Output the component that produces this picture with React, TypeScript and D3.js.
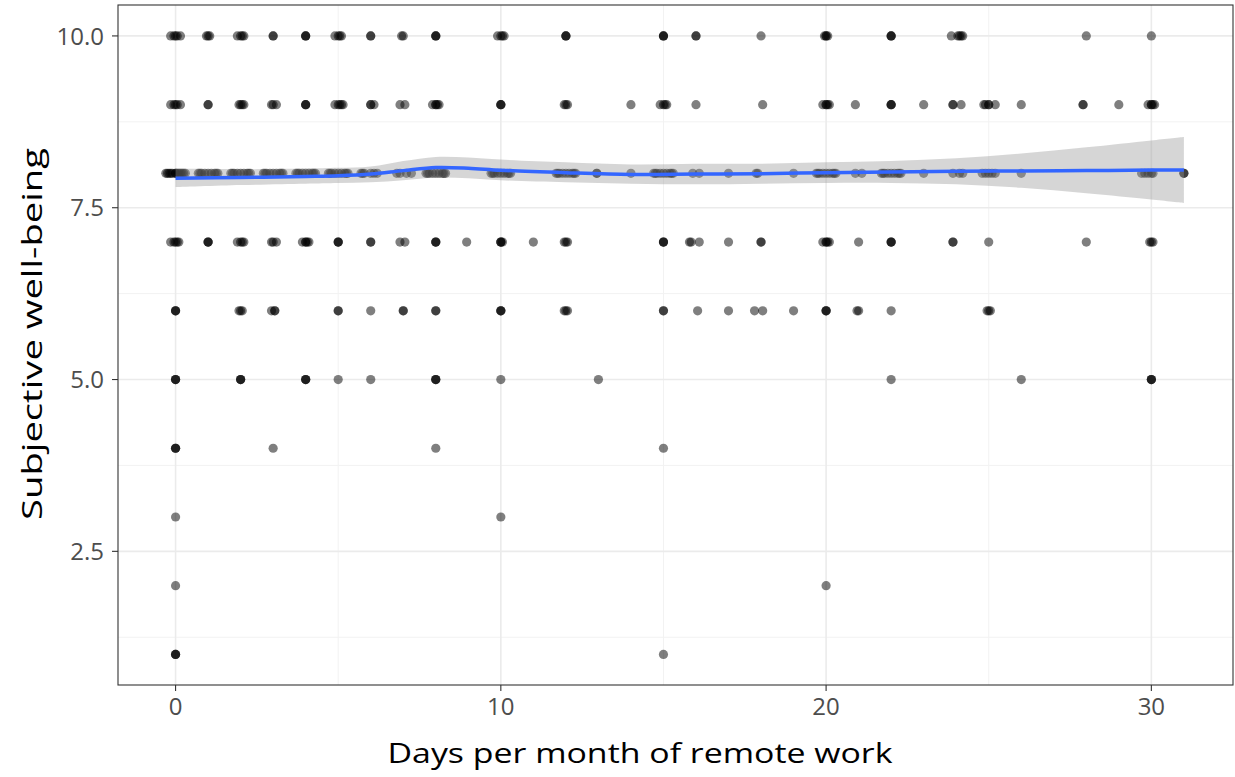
import React from "react";
import * as d3 from "d3";

// Days per month of remote work (x) for each subjective well-being level (y)
const swb10 = [-0.15, -0.05, 0, 0.05, 0.15, 0.95, 1.05, 1, 1.9, 2, 2.05, 2.1, 3, 3, 4, 4, 4, 4.9, 5, 5.05, 5.1, 6, 6, 6.95, 7, 8, 8, 8, 9.9, 10, 10.05, 10.1, 12, 12, 12, 15, 15, 15, 16, 16, 18, 19.95, 20, 20.05, 20, 22, 22, 22, 23.85, 24.05, 24.1, 24.2, 24.15, 28, 30];
const swb9 = [-0.15, -0.05, 0, 0.05, 0.15, 1, 1, 1.95, 2, 2.05, 2.1, 2.95, 3, 3.1, 4, 4, 4, 4.9, 5, 5.05, 5.1, 5.15, 6, 6, 6.1, 6.9, 7.05, 7.9, 8, 8.05, 8.1, 8, 10, 10, 10, 11.95, 12.05, 12, 14, 14.9, 15, 15.05, 15.1, 16, 18.05, 19.9, 20, 20.05, 20.1, 20, 20.9, 22, 22, 22, 23, 23.9, 23.9, 24.15, 24.85, 24.9, 25, 25, 25.2, 26, 27.9, 27.9, 29, 29.9, 30, 30.05, 30.1, 30];
const swb8 = [-0.3, -0.25, -0.2, -0.15, -0.1, 0, 0, 0.05, 0.1, 0.15, 0.2, 0.25, 0.3, 0.7, 0.75, 0.8, 0.9, 1, 1.1, 1.2, 1.25, 1.3, 1.7, 1.75, 1.8, 1.9, 2, 2.1, 2.2, 2.25, 2.3, 2.7, 2.75, 2.8, 2.9, 3, 3.1, 3.2, 3.25, 3.3, 3.7, 3.75, 3.8, 3.9, 4, 4.1, 4.2, 4.25, 4.3, 4.7, 4.75, 4.8, 4.9, 5, 5.1, 5.2, 5.25, 5.3, 5.7, 5.75, 5.8, 6, 6.1, 6.2, 6.8, 6.9, 7.1, 7.25, 7.7, 7.75, 7.8, 7.9, 8, 8.1, 8.2, 8.25, 8.3, 9.7, 9.75, 9.8, 9.9, 10, 10.1, 10.2, 10.25, 10.3, 11.7, 11.75, 11.8, 11.9, 12, 12.1, 12.2, 12.25, 12.3, 12.95, 12.95, 14, 14.7, 14.75, 14.8, 14.9, 15, 15.1, 15.2, 15.25, 15.3, 15.9, 16.1, 17, 17.85, 17.9, 19, 19.7, 19.75, 19.8, 19.9, 20, 20.1, 20.2, 20.25, 20.3, 20.9, 21.1, 21.7, 21.75, 21.8, 21.9, 22, 22.1, 22.2, 22.25, 22.3, 23, 23.9, 24.1, 24.2, 24.8, 24.9, 25, 25.1, 25.2, 26, 29.7, 29.8, 29.9, 30, 30.05, 31, 31];
const swb7 = [-0.15, -0.05, 0, 0.05, 0.1, 1, 1, 1, 1.9, 2, 2.05, 2.1, 2.95, 3, 3.1, 3.9, 4, 4.05, 4.1, 4, 5, 5, 5, 6, 6, 6.9, 7.05, 8, 8, 8, 8.95, 10, 10, 10, 10.05, 11, 11.95, 12, 12.05, 15, 15, 15, 15.8, 15.85, 16.1, 17, 18, 18, 19.9, 20, 20.05, 20.1, 20, 21, 22, 22, 22, 23.9, 23.9, 25, 28, 29.95, 30, 30.05];
const swb6 = [0, 0, 0, 1.95, 2.05, 2, 2.95, 3.05, 3.05, 5, 5, 6, 7, 7, 8, 8, 10, 10, 10, 11.95, 12.05, 12, 15, 15, 16.05, 17, 17.8, 18.05, 19, 20, 20, 20, 20.95, 21, 22, 24.95, 25.05, 25];
const swb5 = [0, 0, 0, 2, 2, 2, 4, 4, 4, 5, 6, 8, 8, 8, 10, 13, 22, 26, 30, 30, 30];
const swb4 = [0, 0, 0, 3, 8, 15];
const swb3 = [0, 10];
const swb2 = [0, 20];
const swb1 = [0, 0, 0, 15];

const levels = [10, 9, 8, 7, 6, 5, 4, 3, 2, 1];
const levelDays = [swb10, swb9, swb8, swb7, swb6, swb5, swb4, swb3, swb2, swb1];

// LOESS smooth
const smoothX = [0, 2, 4, 5, 6, 7, 8, 9, 10, 12, 14, 16, 18, 20, 22, 24, 26, 28, 30, 31];
const smoothFit = [7.93, 7.94, 7.955, 7.965, 7.99, 8.04, 8.085, 8.075, 8.045, 8.01, 7.985, 7.99, 7.995, 8.01, 8.02, 8.03, 8.035, 8.04, 8.05, 8.05];
const smoothLo = [7.8, 7.83, 7.85, 7.86, 7.87, 7.9, 7.94, 7.93, 7.9, 7.87, 7.85, 7.84, 7.85, 7.86, 7.86, 7.84, 7.79, 7.71, 7.62, 7.57];
const smoothHi = [8.07, 8.06, 8.07, 8.08, 8.1, 8.18, 8.24, 8.23, 8.2, 8.16, 8.13, 8.14, 8.14, 8.16, 8.18, 8.22, 8.29, 8.38, 8.48, 8.53];

const xMajor = [0, 10, 20, 30];
const xMinor = [5, 15, 25];
const yMajor = [2.5, 5, 7.5, 10];
const yMinor = [1.25, 3.75, 6.25, 8.75];
const yTickLabels = ["2.5", "5.0", "7.5", "10.0"];

const W = 1235;
const H = 777;
const L = 118;
const R = 1233;
const T = 5;
const B = 685;

export default function App() {
  const x = d3.scaleLinear().domain([-1.77, 32.51]).range([L, R]);
  const y = d3.scaleLinear().domain([0.555, 10.45]).range([B, T]);

  const pts: { d: number; v: number }[] = [];
  levels.forEach((v, i) => levelDays[i].forEach((d) => pts.push({ d, v })));

  const idx = smoothX.map((_, i) => i);
  const area = d3
    .area<number>()
    .x((i) => x(smoothX[i]))
    .y0((i) => y(smoothLo[i]))
    .y1((i) => y(smoothHi[i]))
    .curve(d3.curveCatmullRom);
  const line = d3
    .line<number>()
    .x((i) => x(smoothX[i]))
    .y((i) => y(smoothFit[i]))
    .curve(d3.curveCatmullRom);

  const font = "'Open Sans', 'Noto Sans', sans-serif";

  return (
    <svg width={W} height={H} style={{ position: "absolute", left: 0, top: 0, background: "#fff" }}>
      <rect x={0} y={0} width={W} height={H} fill="#fff" />
      <defs>
        <clipPath id="panel">
          <rect x={L} y={T} width={R - L} height={B - T} />
        </clipPath>
      </defs>
      <g clipPath="url(#panel)">
        {xMinor.map((t) => (
          <line key={"xm" + t} x1={x(t)} x2={x(t)} y1={T} y2={B} stroke="#F2F2F2" strokeWidth={1} />
        ))}
        {yMinor.map((t) => (
          <line key={"ym" + t} x1={L} x2={R} y1={y(t)} y2={y(t)} stroke="#F2F2F2" strokeWidth={1} />
        ))}
        {xMajor.map((t) => (
          <line key={"xM" + t} x1={x(t)} x2={x(t)} y1={T} y2={B} stroke="#EBEBEB" strokeWidth={1.6} />
        ))}
        {yMajor.map((t) => (
          <line key={"yM" + t} x1={L} x2={R} y1={y(t)} y2={y(t)} stroke="#EBEBEB" strokeWidth={1.6} />
        ))}
        {pts.map((p, i) => (
          <circle key={i} cx={x(p.d)} cy={y(p.v)} r={4.6} fill="#000" fillOpacity={0.5} />
        ))}
        <path d={area(idx) || ""} fill="#999999" fillOpacity={0.4} />
        <path d={line(idx) || ""} fill="none" stroke="#3366FF" strokeWidth={3.5} />
      </g>
      <rect x={L} y={T} width={R - L} height={B - T} fill="none" stroke="#333333" strokeWidth={1.1} />
      {xMajor.map((t) => (
        <g key={"xt" + t}>
          <line x1={x(t)} x2={x(t)} y1={B} y2={B + 6} stroke="#333333" strokeWidth={1.1} />
          <text x={x(t)} y={B + 30} textAnchor="middle" fontFamily={font} fontSize={24} fill="#4D4D4D">
            {t}
          </text>
        </g>
      ))}
      {yMajor.map((t, i) => (
        <g key={"yt" + t}>
          <line x1={L - 6} x2={L} y1={y(t)} y2={y(t)} stroke="#333333" strokeWidth={1.1} />
          <text x={L - 14} y={y(t)} dy="0.36em" textAnchor="end" fontFamily={font} fontSize={24} fill="#4D4D4D">
            {yTickLabels[i]}
          </text>
        </g>
      ))}
      <text x={640} y={763} textAnchor="middle" fontFamily={font} fontSize={28} fill="#000" textLength={505} lengthAdjust="spacingAndGlyphs">
        Days per month of remote work
      </text>
      <text
        transform={`translate(42, 334) rotate(-90)`}
        textAnchor="middle"
        fontFamily={font}
        fontSize={28}
        fill="#000"
        textLength={372}
        lengthAdjust="spacingAndGlyphs"
      >
        Subjective well-being
      </text>
    </svg>
  );
}
